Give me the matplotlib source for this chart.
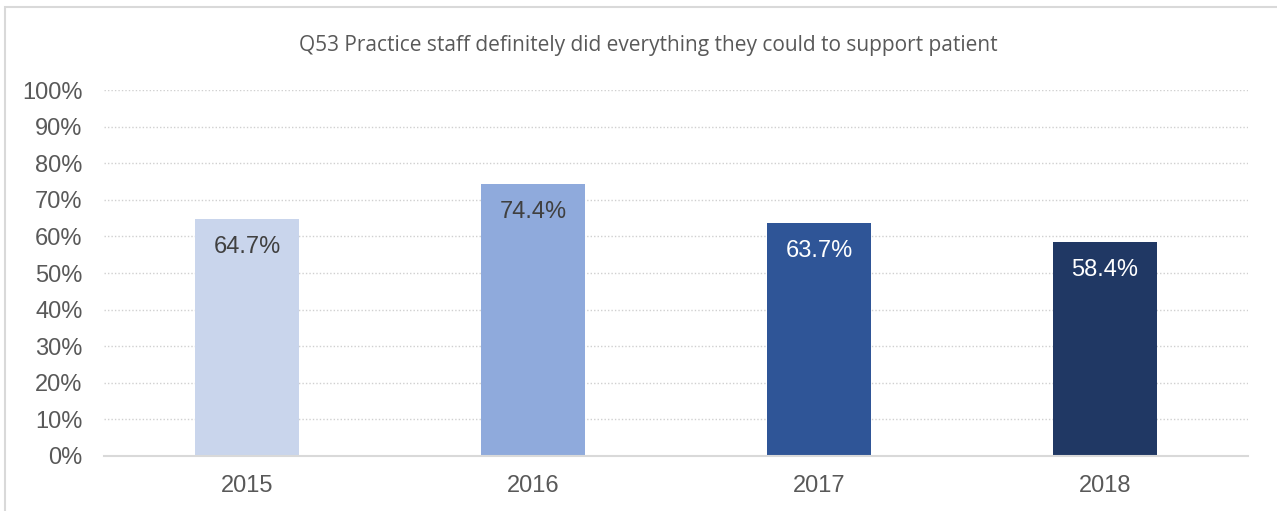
import matplotlib
matplotlib.use("Agg")
import matplotlib.pyplot as plt
from matplotlib.patches import Rectangle

categories = ["2015", "2016", "2017", "2018"]
values = [64.7, 74.4, 63.7, 58.4]
colors = ["#C9D5EC", "#8FAADC", "#2F5597", "#203864"]
label_colors = ["#404040", "#404040", "#FFFFFF", "#FFFFFF"]
yticks = list(range(0, 101, 10))
title = "Q53 Practice staff definitely did everything they could to support patient"

W, H = 1277, 511
fig = plt.figure(figsize=(W / 100, H / 100), dpi=100)
fig.patch.set_facecolor("white")

# outer border (clipped at right/bottom as in reference)
fig.patches.append(Rectangle((4.5 / W, -0.1), 1.2, (H - 7.5) / H + 0.1,
                             transform=fig.transFigure, fill=False,
                             edgecolor="#D9D9D9", linewidth=1.5))

left, right, top, bottom = 104, 1248, 90, 456
ax = fig.add_axes([left / W, 1 - bottom / H, (right - left) / W, (bottom - top) / H])

x = range(len(categories))
ax.bar(x, values, width=0.367, color=colors, zorder=3)
ax.set_xlim(-0.5, len(categories) - 0.5)
ax.set_ylim(0, 100)

ax.set_yticks(yticks)
ax.set_yticklabels([f"{t}%" for t in yticks])
ax.set_xticks(list(x))
ax.set_xticklabels(categories)
ax.tick_params(axis="both", length=0, labelsize=17, labelcolor="#595959",
               labelfontfamily="Liberation Sans")
ax.tick_params(axis="y", pad=15.5)
ax.tick_params(axis="x", pad=13.5)

ax.yaxis.grid(True, linestyle=(0, (1, 1.5)), color="#D0D0D0", linewidth=1, zorder=0)
for s in ["top", "right", "left"]:
    ax.spines[s].set_visible(False)
ax.spines["bottom"].set_color("#D9D9D9")
ax.spines["bottom"].set_linewidth(1.5)
ax.spines["bottom"].set_zorder(4)

for i, v in enumerate(values):
    ax.annotate(f"{v:.1f}%", (i, v), xytext=(0, -28), textcoords="offset pixels",
                ha="center", va="center", fontsize=17, color=label_colors[i],
                family="Liberation Sans", zorder=5)

fig.text(648 / W, 1 - 46 / H, title, ha="center", va="center",
         fontsize=15, color="#595959", family="Open Sans")

fig.savefig("out.png", dpi=100)
